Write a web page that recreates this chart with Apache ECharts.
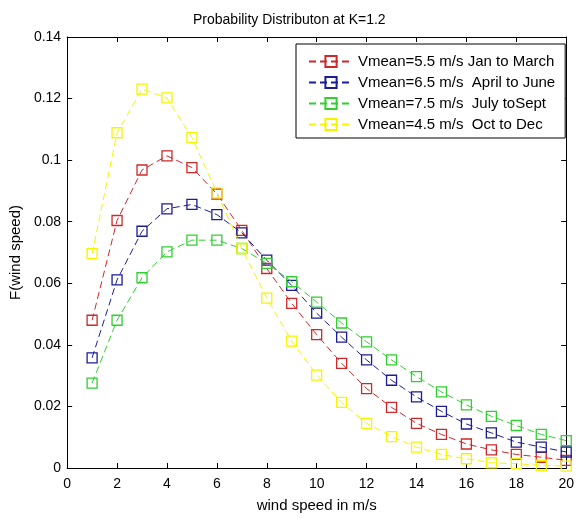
<!DOCTYPE html>
<html><head><meta charset="utf-8">
<script src="https://cdn.jsdelivr.net/npm/echarts@6/dist/echarts.min.js"></script>
<style>html,body{margin:0;padding:0;background:#fff}#c{width:577px;height:518px}</style>
</head><body><div id="c"></div>
<script>
const windSpeed = [1,2,3,4,5,6,7,8,9,10,11,12,13,14,15,16,17,18,19,20];
const seriesNames = ['Vmean=5.5 m/s Jan to March','Vmean=6.5 m/s  April to June','Vmean=7.5 m/s  July toSept','Vmean=4.5 m/s  Oct to Dec'];
const janMar = [0.0480,0.0804,0.0968,0.1014,0.0976,0.0890,0.0772,0.0648,0.0535,0.0433,0.0340,0.0258,0.0197,0.0145,0.0109,0.0078,0.0059,0.0044,0.0035,0.0025];
const aprJun = [0.0358,0.0611,0.0769,0.0842,0.0856,0.0823,0.0764,0.0675,0.0593,0.0503,0.0425,0.0351,0.0285,0.0231,0.0184,0.0143,0.0114,0.0084,0.0068,0.0052];
const julSep = [0.0276,0.0480,0.0618,0.0702,0.0740,0.0740,0.0713,0.0665,0.0605,0.0539,0.0471,0.0410,0.0351,0.0297,0.0247,0.0205,0.0168,0.0138,0.0109,0.0089];
const octDec = [0.0696,0.1089,0.1231,0.1202,0.1073,0.0894,0.0713,0.0552,0.0412,0.0302,0.0213,0.0145,0.0102,0.0068,0.0044,0.0030,0.0017,0.0014,0.0009,0.0006];
const colors = ['#d02828','#1c1c96','#30d030','#f5f500'];
const allValues = [janMar, aprJun, julSep, octDec];

const font = 'Liberation Sans, Arial, sans-serif';
const chart = echarts.init(document.getElementById('c'), null, {renderer:'canvas'});
const axisCommon = {
  axisLine:{show:true, onZero:false, lineStyle:{color:'#000', width:1}},
  axisTick:{show:true, inside:true, length:5, lineStyle:{color:'#000'}},
  splitLine:{show:false}
};
const series = allValues.map((vals,i)=>({
  name: seriesNames[i],
  type:'line',
  xAxisIndex:0, yAxisIndex:0,
  data: windSpeed.map((x,j)=>[x, vals[j]]),
  symbol:'rect',
  symbolSize:10,
  showAllSymbol:true,
  lineStyle:{color:colors[i], width:1, type:[7,4]},
  itemStyle:{color:'rgba(255,255,255,0)', borderColor:colors[i], borderWidth:1.3},
  animation:false,
  z: 2 + i
}));
chart.setOption({
  backgroundColor:'#fff',
  animation:false,
  title:{text:'Probability Distributon at K=1.2', left:188, top:8,
    textStyle:{fontFamily:font, fontSize:14, fontWeight:'normal', color:'#000'}},
  grid:{left:67, right:7, top:37, bottom:47, containLabel:false},
  legend:{
    orient:'vertical', left:296, top:44,
    backgroundColor:'#fff', borderColor:'#000', borderWidth:1,
    padding:[10,10,6,12], itemGap:6, itemWidth:44, itemHeight:14,
    textStyle:{fontFamily:font, fontSize:15, lineHeight:15, color:'#000'},
    data: seriesNames
  },
  xAxis:[
    Object.assign({type:'value', min:0, max:20, interval:2, position:'bottom',
      name:'wind speed in m/s', nameLocation:'middle', nameGap:30,
      nameTextStyle:{fontFamily:font, fontSize:15, color:'#000'},
      axisLabel:{fontFamily:font, fontSize:14, color:'#000', margin:9}}, axisCommon),
    Object.assign({type:'value', min:0, max:20, interval:2, position:'top',
      axisLabel:{show:false}}, axisCommon)
  ],
  yAxis:[
    Object.assign({type:'value', min:0, max:0.14, interval:0.02, position:'left',
      name:'F(wind speed)', nameLocation:'middle', nameGap:43, nameRotate:90,
      nameTextStyle:{fontFamily:font, fontSize:15, color:'#000'},
      axisLabel:{fontFamily:font, fontSize:14, color:'#000', margin:6}}, axisCommon),
    Object.assign({type:'value', min:0, max:0.14, interval:0.02, position:'right',
      axisLabel:{show:false}}, axisCommon)
  ],
  series: series
});
</script>
</body></html>
